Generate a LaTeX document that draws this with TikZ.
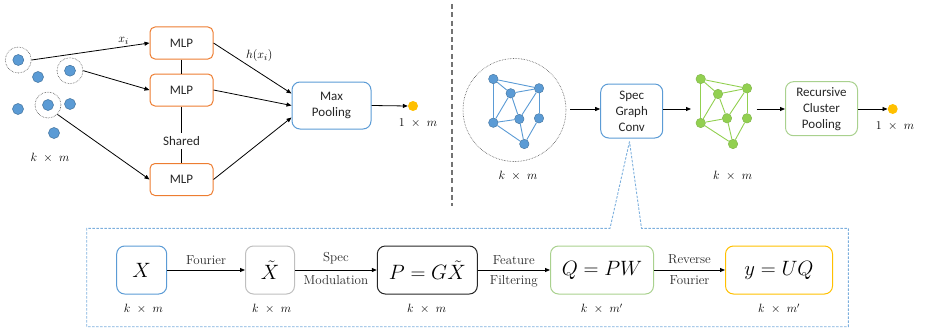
\documentclass[tikz,border=0pt]{standalone}
\usepackage{fontspec}
\usepackage{amsmath}
\newfontfamily\calibri{Carlito}
\usetikzlibrary{arrows.meta,calc}
\definecolor{cblue}{HTML}{5B9BD5}
\definecolor{cbluedk}{HTML}{41719C}
\definecolor{cbluel}{HTML}{9DC3E6}
\definecolor{corange}{HTML}{ED7D31}
\definecolor{cgold}{HTML}{FFC000}
\definecolor{cgreen}{HTML}{92D050}
\definecolor{cgreenl}{HTML}{A9D18E}
\definecolor{cgray}{HTML}{BFBFBF}
\definecolor{cdark}{HTML}{262626}
\tikzset{
  arr/.style={-{Triangle[length=5pt,width=4pt]}, line width=0.8pt, draw=black},
  sanslbl/.style={font=\calibri\fontsize{13}{16}\selectfont, align=center, text=black!85},
  mlpbox/.style={sanslbl, draw=corange, line width=1pt, rounded corners=5pt, minimum width=63pt, minimum height=32pt, inner sep=0pt},
  bluedot/.style={circle, fill=cblue, draw=cbluedk, line width=0.5pt, minimum size=11pt, inner sep=0pt},
  ring/.style={circle, draw=black!70, densely dotted, line width=0.6pt, minimum size=26pt, inner sep=0pt},
  gnode/.style={circle, fill=cblue, draw=cbluedk, line width=0.4pt, minimum size=9.5pt, inner sep=0pt},
  gedge/.style={draw=cblue, line width=0.9pt},
  grnode/.style={circle, fill=cgreen, draw=cgreen!85!black, line width=0.4pt, minimum size=9.5pt, inner sep=0pt},
  gredge/.style={draw=cgreen, line width=0.9pt},
  golddot/.style={circle, fill=cgold, minimum size=10pt, inner sep=0pt},
  dimlbl/.style={font=\fontsize{11.5}{13}\selectfont, text=black},
  mathbox/.style={rounded corners=8pt, line width=1pt, minimum height=48pt, inner sep=0pt, font=\fontsize{20}{24}\selectfont},
  serlbl/.style={font=\fontsize{13}{15}\selectfont, text=black!85},
  mathlbl/.style={font=\fontsize{13}{15}\selectfont},
}
\begin{document}
\begin{tikzpicture}[x=1pt, y=-1pt]
\useasboundingbox (0,0) rectangle (925,329);

% ---------------- left panel ----------------
\node[bluedot] (d1) at (18.3,60) {};
\node[ring] (r1) at (18.3,60) {};
\node[bluedot] (d2) at (38,77) {};
\node[bluedot] (d3) at (70,70.7) {};
\node[ring] (r2) at (70,70.7) {};
\node[bluedot] (d4) at (18,109) {};
\node[bluedot] (d5) at (48,105) {};
\node[ring] (r3) at (48,105) {};
\node[bluedot] (d6) at (70,104) {};
\node[bluedot] (d7) at (54,133) {};
\node[dimlbl] (lkm) at (50,158) {$k\ \times\ m$};

\node[mlpbox] (m1) at (181.5,43) {MLP};
\node[mlpbox] (m2) at (181.5,90) {MLP};
\node[mlpbox] (m3) at (181.5,179.5) {MLP};
\node[sanslbl] (shared) at (181.5,140.7) {Shared};
\draw[line width=0.8pt] (m1) -- (m2);
\draw[line width=0.8pt] (m2) -- (shared);
\draw[line width=0.8pt] (shared) -- (m3);

\node[sanslbl, draw=cblue, line width=1pt, rounded corners=8pt, minimum width=79pt, minimum height=47pt, inner sep=0pt] (mp) at (331.5,105.5) {Max\\Pooling};
\node[golddot] (o1) at (413,106) {};
\node[dimlbl] (o1l) at (418,123.5) {$1\ \times\ m$};

\draw[arr] (r1.east) -- (m1.west) node[pos=0.78, above, mathlbl, inner sep=2pt] {$x_i$};
\draw[arr] (r2.east) -- (m2.west);
\draw[arr] (r3.south east) -- (m3.west);
\draw[arr] (m1.east) -- ([yshift=12pt]mp.west) node[pos=0.4, above right, mathlbl, inner sep=1pt] {$h(x_i)$};
\draw[arr] (m2.east) -- (mp.west);
\draw[arr] (m3.east) -- ([yshift=-12pt]mp.west);
\draw[arr] (mp.east) -- (o1.west);

% separator
\coordinate (s1) at (452.3,4);
\coordinate (s2) at (452.3,206);
\draw[draw=black!55, line width=1.8pt, dash pattern=on 5pt off 3.3pt] (s1) -- (s2);

% ---------------- right panel ----------------
\node[circle, draw=black!70, densely dotted, line width=0.6pt, minimum size=103pt, inner sep=0pt] (bc) at (514.5,110) {};
\node[gnode] (n1) at (493.3,79) {};
\node[gnode] (n2) at (510.7,93.3) {};
\node[gnode] (n3) at (539,88.3) {};
\node[gnode] (n4) at (493.3,122.7) {};
\node[gnode] (n5) at (519.3,119) {};
\node[gnode] (n6) at (539,118.3) {};
\node[gnode] (n7) at (524.3,144) {};
\foreach \a/\b in {n1/n3,n1/n2,n2/n3,n1/n4,n2/n4,n2/n5,n3/n5,n3/n6,n4/n5,n4/n7,n5/n7,n6/n7}
  \draw[gedge] (\a) -- (\b);
\node[dimlbl] (bkm) at (518,175.7) {$k\ \times\ m$};

\node[sanslbl, draw=cblue, line width=1pt, rounded corners=8pt, minimum width=62pt, minimum height=54pt, inner sep=0pt] (sgc) at (631.7,111) {Spec\\Graph\\Conv};

\node[grnode] (g1) at (700.7,79) {};
\node[grnode] (g2) at (718,94) {};
\node[grnode] (g3) at (747,88.3) {};
\node[grnode] (g4) at (700.7,123) {};
\node[grnode] (g5) at (727,118.3) {};
\node[grnode] (g6) at (747,118.3) {};
\node[grnode] (g7) at (733,144) {};
\foreach \a/\b in {g1/g3,g1/g2,g2/g3,g1/g4,g2/g4,g2/g5,g3/g5,g3/g6,g4/g5,g4/g7,g5/g7,g6/g7}
  \draw[gredge] (\a) -- (\b);
\node[dimlbl] (gkm) at (732.7,175.7) {$k\ \times\ m$};

\node[sanslbl, draw=cgreenl, line width=1pt, rounded corners=8pt, minimum width=72pt, minimum height=54pt, inner sep=0pt] (rcp) at (821.5,108.7) {Recursive\\Cluster\\Pooling};
\node[golddot] (o2) at (892.7,109) {};
\node[dimlbl] (o2l) at (895,126.5) {$1\ \times\ m$};

\coordinate (a1s) at (570,109);
\coordinate (g4w) at (691,109);
\coordinate (g6e) at (756.7,109);
\draw[arr] (a1s) -- (sgc.west |- a1s);
\draw[arr] (sgc.east |- a1s) -- (g4w);
\draw[arr] (g6e) -- (rcp.west |- g6e);
\draw[arr] (rcp.east |- o2) -- (o2.west);

% ---------------- bottom callout ----------------
\coordinate (apex) at (629.5,141.5);
\coordinate (cl) at (610,228.3);
\coordinate (cr) at (641.5,228.3);
\coordinate (bl) at (86.7,228.3);
\coordinate (bb) at (86.7,326.7);
\coordinate (br) at (848.3,326.7);
\coordinate (bt) at (848.3,228.3);
\draw[draw=cblue!80, line width=0.9pt, dash pattern=on 2.5pt off 1.5pt]
  (apex) -- (cl) -- (bl) -- (bb) -- (br) -- (bt) -- (cr) -- cycle;

\node[mathbox, draw=cblue, minimum width=50pt] (bx) at (141.7,270) {$X$};
\node[mathbox, draw=cgray, minimum width=49pt] (bxt) at (270,270) {$\tilde X$};
\node[mathbox, draw=cdark, minimum width=100pt] (bp) at (427.3,270) {$P=G\tilde X$};
\node[mathbox, draw=cgreenl, minimum width=103pt] (bq) at (602,270) {$Q=PW$};
\node[mathbox, draw=cgold, minimum width=107pt] (by) at (779,270) {$y=UQ$};

\draw[arr] (bx) -- (bxt) node[midway, above=2pt, serlbl] {Fourier};
\draw[arr] (bxt) -- (bp) node[midway, above=2pt, serlbl] {Spec} node[midway, below=2pt, serlbl] {Modulation};
\draw[arr] (bp) -- (bq) node[midway, above=2pt, serlbl] {Feature} node[midway, below=2pt, serlbl] {Filtering};
\draw[arr] (bq) -- (by) node[midway, above=2pt, serlbl] {Reverse} node[midway, below=2pt, serlbl] {Fourier};

\node[dimlbl] (k1) at (143.3,309) {$k\ \times\ m$};
\node[dimlbl] (k2) at (271.7,309) {$k\ \times\ m$};
\node[dimlbl] (k3) at (426.7,309) {$k\ \times\ m$};
\node[dimlbl] (k4) at (601.7,309) {$k\ \times\ m'$};
\node[dimlbl] (k5) at (779,309) {$k\ \times\ m'$};
\end{tikzpicture}
\end{document}
